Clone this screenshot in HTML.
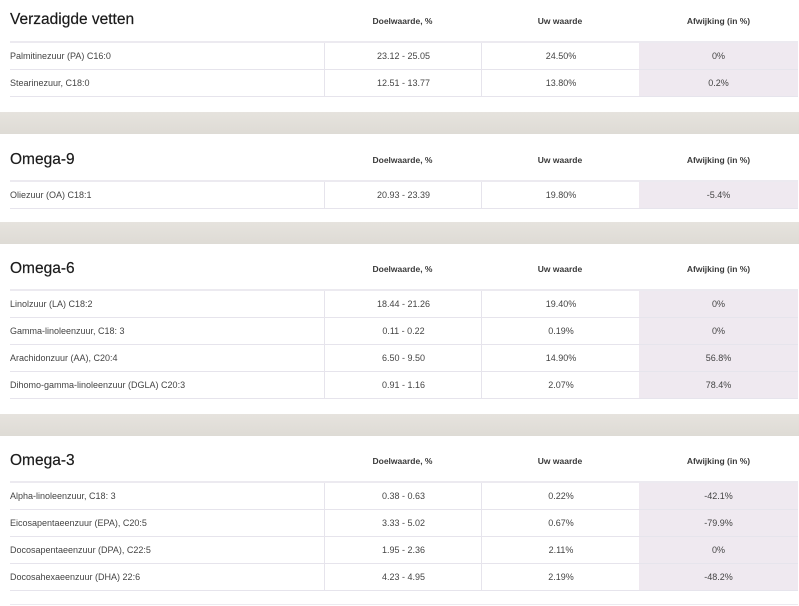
<!DOCTYPE html>
<html><head><meta charset="utf-8"><style>
body{margin:0;width:799px;height:606px;background:#fff;position:relative;overflow:hidden;font-family:"Liberation Sans",sans-serif;color:#333}
.band{position:absolute;left:0;width:799px;height:22px;background:linear-gradient(#e6e3de,#dedbd5)}
.t{position:absolute;left:10px;font-size:15.5px;color:#1a1a1a;-webkit-text-stroke:0.2px #1a1a1a}
.h{position:absolute;font-size:8.5px;font-weight:bold;color:#3a3a3a;text-align:center}
.hl{position:absolute;left:10px;width:788px;height:2px;background:#eceaf0}
.row{position:absolute;left:10px;width:788px;height:27px;border-bottom:1px solid #e6e4ec;box-sizing:border-box;font-size:9px;color:#444}
.row div{position:absolute;top:0;height:26px;line-height:27px}
.c0{left:0;width:314px}
.c1{left:314px;width:157px;text-align:center;border-left:1px solid #e6e4ec}
.c2{left:471px;width:158px;text-align:center;border-left:1px solid #e6e4ec}
.c3{left:629px;width:159px;text-align:center;background:#efe9f0}
</style></head><body>
<div class="band" style="top:112px"></div>
<div class="band" style="top:222px"></div>
<div class="band" style="top:414px"></div>

<div class="t" style="top:11px">Verzadigde vetten</div>
<div class="h" style="top:16px;left:324px;width:157px">Doelwaarde, %</div>
<div class="h" style="top:16px;left:481px;width:158px">Uw waarde</div>
<div class="h" style="top:16px;left:639px;width:159px">Afwijking (in %)</div>
<div class="hl" style="top:41px"></div>
<div class="row" style="top:43px"><div class="c0">Palmitinezuur (PA) C16:0</div><div class="c1">23.12 - 25.05</div><div class="c2">24.50%</div><div class="c3">0%</div></div>
<div class="row" style="top:70px"><div class="c0">Stearinezuur, C18:0</div><div class="c1">12.51 - 13.77</div><div class="c2">13.80%</div><div class="c3">0.2%</div></div>

<div class="t" style="top:151px">Omega-9</div>
<div class="h" style="top:155px;left:324px;width:157px">Doelwaarde, %</div>
<div class="h" style="top:155px;left:481px;width:158px">Uw waarde</div>
<div class="h" style="top:155px;left:639px;width:159px">Afwijking (in %)</div>
<div class="hl" style="top:180px"></div>
<div class="row" style="top:182px"><div class="c0">Oliezuur (OA) C18:1</div><div class="c1">20.93 - 23.39</div><div class="c2">19.80%</div><div class="c3">-5.4%</div></div>

<div class="t" style="top:260px">Omega-6</div>
<div class="h" style="top:264px;left:324px;width:157px">Doelwaarde, %</div>
<div class="h" style="top:264px;left:481px;width:158px">Uw waarde</div>
<div class="h" style="top:264px;left:639px;width:159px">Afwijking (in %)</div>
<div class="hl" style="top:289px"></div>
<div class="row" style="top:291px"><div class="c0">Linolzuur (LA) C18:2</div><div class="c1">18.44 - 21.26</div><div class="c2">19.40%</div><div class="c3">0%</div></div>
<div class="row" style="top:318px"><div class="c0">Gamma-linoleenzuur, C18: 3</div><div class="c1">0.11 - 0.22</div><div class="c2">0.19%</div><div class="c3">0%</div></div>
<div class="row" style="top:345px"><div class="c0">Arachidonzuur (AA), C20:4</div><div class="c1">6.50 - 9.50</div><div class="c2">14.90%</div><div class="c3">56.8%</div></div>
<div class="row" style="top:372px"><div class="c0">Dihomo-gamma-linoleenzuur (DGLA) C20:3</div><div class="c1">0.91 - 1.16</div><div class="c2">2.07%</div><div class="c3">78.4%</div></div>

<div class="t" style="top:452px">Omega-3</div>
<div class="h" style="top:456px;left:324px;width:157px">Doelwaarde, %</div>
<div class="h" style="top:456px;left:481px;width:158px">Uw waarde</div>
<div class="h" style="top:456px;left:639px;width:159px">Afwijking (in %)</div>
<div class="hl" style="top:481px"></div>
<div class="row" style="top:483px"><div class="c0">Alpha-linoleenzuur, C18: 3</div><div class="c1">0.38 - 0.63</div><div class="c2">0.22%</div><div class="c3">-42.1%</div></div>
<div class="row" style="top:510px"><div class="c0">Eicosapentaeenzuur (EPA), C20:5</div><div class="c1">3.33 - 5.02</div><div class="c2">0.67%</div><div class="c3">-79.9%</div></div>
<div class="row" style="top:537px"><div class="c0">Docosapentaeenzuur (DPA), C22:5</div><div class="c1">1.95 - 2.36</div><div class="c2">2.11%</div><div class="c3">0%</div></div>
<div class="row" style="top:564px"><div class="c0">Docosahexaeenzuur (DHA) 22:6</div><div class="c1">4.23 - 4.95</div><div class="c2">2.19%</div><div class="c3">-48.2%</div></div>
<div style="position:absolute;left:10px;top:604px;width:788px;height:1px;background:#eceaf0"></div>
</body></html>
